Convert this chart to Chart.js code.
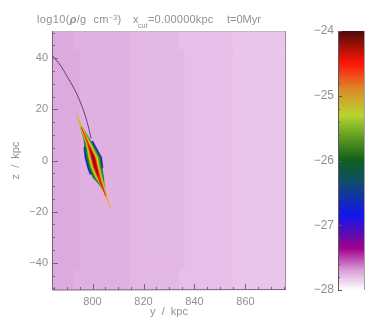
<!DOCTYPE html>
<html>
<head>
<meta charset="utf-8">
<script src="https://cdn.jsdelivr.net/npm/chart.js@4/dist/chart.umd.min.js"></script>
<style>
    html, body { margin: 0; padding: 0; background: #fff; }
    #wrap { position: relative; width: 374px; height: 321px; overflow: hidden; filter: blur(0.45px); }
    canvas { position: absolute; top: 0; }
    #mainChart { left: 0; }
    #barChart { left: 290px; }
    .t { position: absolute; font: 11px "Liberation Sans", sans-serif; color: #909090; white-space: pre; line-height: 12px; }
    .s { font-size: 7px; }
</style>
</head>
<body>
<div id="wrap">
    <canvas id="mainChart" width="374" height="321"></canvas>
    <canvas id="barChart" width="84" height="321"></canvas>
    <span class="t" style="left:37px;top:13px;letter-spacing:0.35px">log10(<b><i>ρ</i></b>/g  cm<span class="s" style="position:relative;top:-3px">−3</span>)</span>
    <span class="t" style="left:133px;top:13px">x</span>
    <span class="t s" style="left:138px;top:20px">cut</span>
    <span class="t" style="left:148px;top:13px;letter-spacing:0.2px">=0.00000kpc</span>
    <span class="t" style="left:227px;top:13px">t=0Myr</span>
</div>
<script>
    // Axis ranges
    const xRange = [784.1, 875.9];
    const zRange = [-50.6, 50.6];
    const barRange = [-28, -24];

    // Background density blocks
    const edgesOuter = [784, 792.7, 814.5, 833.9, 855.1, 876];
    const edgesMiddle = [784, 795.1, 814.5, 835.9, 855.1, 876];
    const zBreaks = [51, 43, -42.4, -51];
    const bandColors = ['#dcaadc', '#e0b1e0', '#e3b7e3', '#e6bee8', '#e9c6e9'];

    // Density contours of the cloud, outermost first
    const blueEdge = [[797.5, 6.5], [800.2, 7.5], [801, 6], [803.6, 1.2], [804.1, -2.7], [803.2, -4], [799, -5.5], [798, -2.7], [797, 1.2], [796.6, 5]];
    const tealEdge = [[796.3, 11], [800, 6.7], [803.2, 1.2], [803.7, -2.7], [804.4, -7], [804.2, -11], [800.2, -6.7], [798.5, -2.7], [797.5, 1.2], [796.8, 6.7]];
    const greenEdge = [[795, 14.5], [797.9, 10], [799.8, 6.7], [802.7, 1.2], [803.3, -2.7], [804.4, -7.5], [805.1, -13], [802.4, -9], [800.8, -6.7], [799, -2.7], [798, 1.2], [797.1, 6.7], [796, 10]];
    const limeEdge = [[794.5, 16.2], [797.5, 10], [799.3, 6.7], [802.1, 1.2], [802.8, -2.7], [804, -7.5], [806, -16], [802.9, -9], [801.3, -6.7], [799.5, -2.7], [798.5, 1.2], [797.5, 6.7], [796, 10.5]];
    const orangeEdge = [[793.7, 18.2], [797, 10], [798.8, 6.7], [801.6, 1.2], [802.4, -2.7], [803.6, -7.5], [806.9, -18.5], [803.3, -9], [801.7, -6.7], [800, -2.7], [799, 1.2], [797.9, 6.7], [796.2, 10.5]];
    const redEdge = [[795.6, 13], [798.4, 6.7], [801.1, 1.2], [802, -2.7], [803.2, -7.5], [805.2, -14], [802.1, -6.7], [800.4, -2.7], [799.4, 1.2], [798, 6.7]];
    const coreEdge = [[798.9, 5], [800.6, 1.2], [801.5, -2.7], [802.2, -6], [800.9, -2.7], [799.9, 1.2]];
    const contours = [blueEdge, tealEdge, greenEdge, limeEdge, orangeEdge, redEdge, coreEdge];
    const contourColors = ['#1a1ad0', '#0f6a30', '#2f9420', '#b4cc30', '#eeac24', '#f01408', '#8a0f08'];

    // Orbit track
    const trackY = [784.1, 787.3, 790, 792.7, 795.1, 797.1, 798.6, 799.4];
    const trackZ = [41.2, 37.3, 32.9, 28.2, 23.1, 17.6, 12.2, 8.6];

    // Colour bar stops: value, colour
    const barValues = [-24, -24.2, -24.5, -24.9, -25.3, -25.65, -26, -26.3, -26.85, -27.13, -27.36, -27.7, -28];
    const barColors = ['#4a0a0a', '#961008', '#ff1408', '#dc8a28', '#b8d430', '#5c9a20', '#0f5f1a', '#0f4f66', '#1414ee', '#5a0cb0', '#a4008c', '#d9a0d8', '#ffffff'];

    const textColor = '#909090';
    const frameColor = '#7d5f85';

    function toPoints(pairs) {
        return pairs.concat([pairs[0]]).map(p => ({ x: p[0], y: p[1] }));
    }

    function polygon(pairs, color) {
        return {
            type: 'line',
            data: toPoints(pairs),
            backgroundColor: color,
            borderColor: color,
            borderWidth: 0.5,
            pointRadius: 0,
            fill: 'shape',
            tension: 0
        };
    }

    // Background rows, the block edges shift a little near the top and bottom
    const datasets = [];
    for (let row = 0; row < 3; row++) {
        const edges = row === 1 ? edgesMiddle : edgesOuter;
        for (let i = 0; i < bandColors.length; i++) {
            datasets.push(polygon([
                [edges[i], zBreaks[row]],
                [edges[i + 1], zBreaks[row]],
                [edges[i + 1], zBreaks[row + 1]],
                [edges[i], zBreaks[row + 1]]
            ], bandColors[i]));
        }
    }

    datasets.push({
        type: 'line',
        data: trackY.map((y, i) => ({ x: y, y: trackZ[i] })),
        borderColor: '#5f4070',
        borderWidth: 1,
        pointRadius: 0,
        fill: false,
        tension: 0.4
    });

    contours.forEach((c, i) => datasets.push(polygon(c, contourColors[i])));

    // Chart.js paints the first dataset last, so number them bottom to top
    datasets.forEach((d, i) => { d.order = datasets.length - i; });

    // IDL style frame with the tick marks on the inside
    const insideTicks = {
        id: 'insideTicks',
        afterDatasetsDraw(chart) {
            const ctx = chart.ctx;
            const a = chart.chartArea;
            const sx = chart.scales.x;
            const sy = chart.scales.y;
            ctx.save();
            ctx.lineWidth = 1;
            ctx.strokeStyle = '#c4b4c6';
            ctx.beginPath();
            ctx.moveTo(a.left, a.top + 0.5);
            ctx.lineTo(a.right, a.top + 0.5);
            ctx.stroke();
            ctx.strokeStyle = '#a08aa4';
            ctx.beginPath();
            ctx.moveTo(a.right - 0.5, a.top);
            ctx.lineTo(a.right - 0.5, a.bottom);
            ctx.stroke();
            ctx.strokeStyle = frameColor;
            ctx.beginPath();
            ctx.moveTo(a.left + 0.5, a.top);
            ctx.lineTo(a.left + 0.5, a.bottom);
            ctx.lineTo(a.right, a.bottom - 0.5);
            sx.ticks.forEach(t => {
                const px = Math.round(sx.getPixelForValue(t.value)) + 0.5;
                ctx.moveTo(px, a.bottom);
                ctx.lineTo(px, a.bottom - (t.value % 20 === 0 ? 6 : 3));
            });
            sy.ticks.forEach(t => {
                const py = Math.round(sy.getPixelForValue(t.value)) + 0.5;
                ctx.moveTo(a.left, py);
                ctx.lineTo(a.left + (t.value % 20 === 0 ? 6 : 3), py);
            });
            ctx.stroke();
            ctx.restore();
        }
    };

    const font = { family: '"Liberation Sans", sans-serif', size: 11 };

    new Chart(document.getElementById('mainChart'), {
        data: { datasets: datasets },
        plugins: [insideTicks],
        options: {
            responsive: false,
            animation: false,
            layout: { padding: { top: 31, right: 88, left: 0, bottom: 0 } },
            plugins: { legend: { display: false }, tooltip: { enabled: false } },
            scales: {
                x: {
                    type: 'linear',
                    min: xRange[0],
                    max: xRange[1],
                    grid: { display: false, drawTicks: false },
                    border: { display: false },
                    afterFit(scale) { scale.height = 31; },
                    title: { display: true, text: 'y  /  kpc', color: textColor, font: font, padding: { top: 0, bottom: 2 } },
                    ticks: {
                        stepSize: 5,
                        includeBounds: false,
                        autoSkip: false,
                        maxRotation: 0,
                        color: textColor,
                        font: font,
                        padding: 5,
                        callback: v => (v % 20 === 0 ? String(v) : '')
                    }
                },
                y: {
                    type: 'linear',
                    min: zRange[0],
                    max: zRange[1],
                    grid: { display: false, drawTicks: false },
                    border: { display: false },
                    afterFit(scale) { scale.width = 52; },
                    title: { display: true, text: 'z  /  kpc', color: textColor, font: font, padding: { top: 9, bottom: 0 } },
                    ticks: {
                        stepSize: 5,
                        includeBounds: false,
                        autoSkip: false,
                        color: textColor,
                        font: font,
                        padding: 4,
                        callback: v => (v % 20 === 0 ? String(v).replace('-', '−') : '')
                    }
                }
            }
        }
    });

    // Colour bar
    const barTicks = {
        id: 'barTicks',
        afterDatasetsDraw(chart) {
            const ctx = chart.ctx;
            const a = chart.chartArea;
            const sy = chart.scales.y;
            ctx.save();
            ctx.lineWidth = 1;
            ctx.strokeStyle = '#a9a4a9';
            ctx.beginPath();
            ctx.moveTo(a.right + 0.5, a.top);
            ctx.lineTo(a.right + 0.5, a.bottom);
            ctx.stroke();
            ctx.strokeStyle = '#5c5560';
            ctx.beginPath();
            ctx.moveTo(a.left + 0.5, a.top);
            ctx.lineTo(a.left + 0.5, a.bottom);
            sy.ticks.forEach(t => {
                const py = Math.round(sy.getPixelForValue(t.value)) + 0.5;
                ctx.moveTo(a.left, py);
                ctx.lineTo(a.left + (Number.isInteger(t.value) ? 4 : 2), py);
            });
            ctx.stroke();
            ctx.restore();
        }
    };

    function barFill(context) {
        const area = context.chart.chartArea;
        if (!area) return barColors[0];
        const sy = context.chart.scales.y;
        const g = context.chart.ctx.createLinearGradient(0, area.top, 0, area.bottom);
        barValues.forEach((v, i) => {
            g.addColorStop((sy.getPixelForValue(v) - area.top) / (area.bottom - area.top), barColors[i]);
        });
        return g;
    }

    new Chart(document.getElementById('barChart'), {
        type: 'bar',
        data: {
            labels: ['density'],
            datasets: [{
                data: [barRange],
                backgroundColor: barFill,
                barPercentage: 1,
                categoryPercentage: 1
            }]
        },
        plugins: [barTicks],
        options: {
            responsive: false,
            animation: false,
            layout: { padding: { top: 31, right: 10, left: 0, bottom: 31 } },
            plugins: { legend: { display: false }, tooltip: { enabled: false } },
            scales: {
                x: { display: false },
                y: {
                    min: barRange[0],
                    max: barRange[1],
                    grid: { display: false, drawTicks: false },
                    border: { display: false },
                    afterFit(scale) { scale.width = 48; },
                    ticks: {
                        stepSize: 0.2,
                        autoSkip: false,
                        color: textColor,
                        font: { family: font.family, size: 12 },
                        padding: 4,
                        callback: v => (Number.isInteger(Math.round(v * 1000) / 1000) ? '−' + Math.abs(Math.round(v)) : '')
                    }
                }
            }
        }
    });
</script>
</body>
</html>
